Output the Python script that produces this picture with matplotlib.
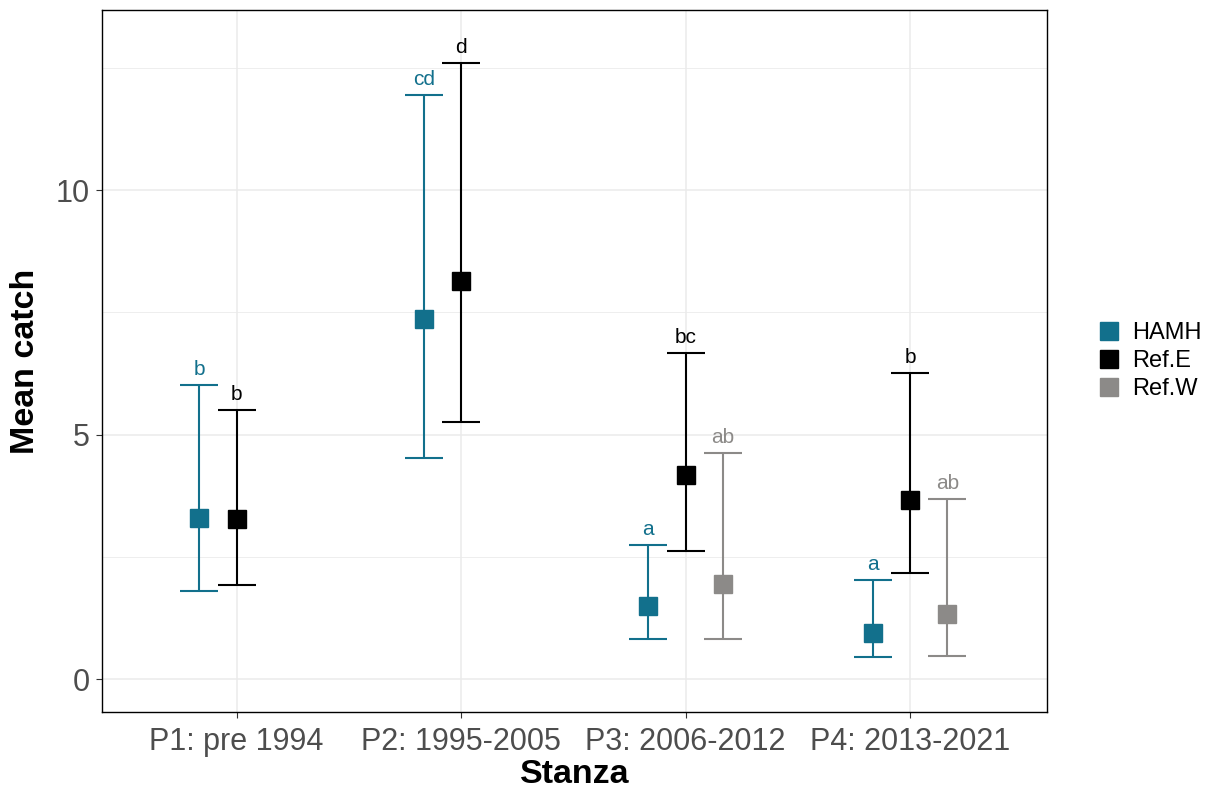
import numpy as np
import matplotlib.pyplot as plt
from matplotlib.lines import Line2D

plt.rcParams['font.family'] = ['Liberation Sans', 'DejaVu Sans']

stanzas = ['P1: pre 1994', 'P2: 1995-2005', 'P3: 2006-2012', 'P4: 2013-2021']
groups = ['HAMH', 'Ref.E', 'Ref.W']
colors = {'HAMH': '#12708c', 'Ref.E': '#000000', 'Ref.W': '#8c8a88'}

# mean, lower, upper per stanza (nan = no data)
hamh_mean = [3.29, 7.36, 1.49, 0.94]
hamh_lo = [1.80, 4.52, 0.82, 0.45]
hamh_hi = [6.01, 11.94, 2.74, 2.02]
hamh_lab = ['b', 'cd', 'a', 'a']

refe_mean = [3.27, 8.14, 4.17, 3.66]
refe_lo = [1.92, 5.26, 2.62, 2.17]
refe_hi = [5.50, 12.60, 6.67, 6.26]
refe_lab = ['b', 'd', 'bc', 'b']

refw_mean = [np.nan, np.nan, 1.94, 1.33]
refw_lo = [np.nan, np.nan, 0.82, 0.47]
refw_hi = [np.nan, np.nan, 4.62, 3.68]
refw_lab = ['', '', 'ab', 'ab']

data = {
    'HAMH': (hamh_mean, hamh_lo, hamh_hi, hamh_lab),
    'Ref.E': (refe_mean, refe_lo, refe_hi, refe_lab),
    'Ref.W': (refw_mean, refw_lo, refw_hi, refw_lab),
}
offsets = {'HAMH': -1/6, 'Ref.E': 0, 'Ref.W': 1/6}

fig = plt.figure(figsize=(12.17, 7.95), dpi=100)
ax = fig.add_axes([102/1217, 83/795, 945/1217, 702/795])

x = np.arange(1, len(stanzas) + 1)
for g in groups:
    m, lo, hi, lab = data[g]
    m, lo, hi = np.array(m), np.array(lo), np.array(hi)
    xs = x + offsets[g]
    ok = ~np.isnan(m)
    ax.errorbar(xs[ok], m[ok], yerr=[m[ok] - lo[ok], hi[ok] - m[ok]],
                fmt='none', ecolor=colors[g], elinewidth=1.5, capsize=13.5,
                capthick=1.5, zorder=3)
    ax.plot(xs[ok], m[ok], 's', color=colors[g], markersize=12.5, zorder=4)
    for xi, yi, t in zip(xs[ok], hi[ok], np.array(lab)[ok]):
        ax.annotate(t, (xi, yi), xytext=(0, 4.5), textcoords='offset points',
                    ha='center', va='bottom', fontsize=15, color=colors[g])

ax.set_xlim(0.40, 4.61)
ax.set_ylim(-0.67, 13.68)
ax.set_xticks(x)
ax.set_xticklabels(stanzas)
ax.set_yticks([0, 5, 10])
ax.set_yticks([2.5, 7.5, 12.5], minor=True)
ax.grid(which='major', color='#ebebeb', linewidth=1.1, zorder=0)
ax.grid(which='minor', axis='y', color='#ebebeb', linewidth=0.6, zorder=0)
ax.set_axisbelow(True)
ax.tick_params(axis='both', which='major', labelsize=22, labelcolor='#4d4d4d',
               color='#333333', length=4, width=0.8)
ax.tick_params(axis='x', which='major', pad=7)
ax.tick_params(axis='y', which='major', pad=5)
ax.tick_params(axis='y', which='minor', length=0)
for s in ax.spines.values():
    s.set_color('#000000')
    s.set_linewidth(1.0)

ax.set_xlabel('Stanza', fontsize=24.5, fontweight='bold', labelpad=1)
ax.set_ylabel('Mean catch', fontsize=24.5, fontweight='bold', labelpad=10)

handles = [Line2D([], [], marker='s', linestyle='none', color=colors[g],
                  markersize=13) for g in groups]
fig.legend(handles, groups, loc='center left', bbox_to_anchor=(1085/1217, 1 - 361/795),
           frameon=False, fontsize=17, handletextpad=0.5, labelspacing=0.25,
           handlelength=1.0, borderpad=0)

fig.savefig('out.png', dpi=100)
